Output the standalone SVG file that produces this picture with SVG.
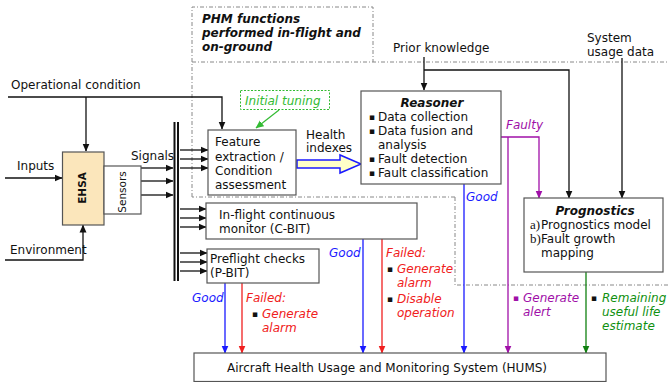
<svg xmlns="http://www.w3.org/2000/svg" width="668" height="382" viewBox="0 0 668 382">
<style>
text{font-family:"DejaVu Sans",Verdana,sans-serif;font-size:12px;fill:#111}
.bi{font-weight:bold;font-style:italic}
.it{font-style:italic}
.bu{font-size:9px;font-style:normal}
.box{fill:#fff;stroke:#555;stroke-width:1.2}
.ln{fill:none;stroke-width:1.3}
.k{stroke:#111}.b{stroke:#1a1aff}.r{stroke:#f02020}.p{stroke:#a010a8}.g{stroke:#108010}
.tb{fill:#1a1aff}.tr{fill:#f02020}.tp{fill:#a010a8}.tg{fill:#109010}
.phm{fill:none;stroke:#888;stroke-width:1;stroke-dasharray:4 2 1 2}
.ser{font-family:"Liberation Serif","Times New Roman",serif;font-size:13px}
</style>
<defs>
<marker id="ak" markerWidth="8" markerHeight="8" refX="7.5" refY="4" orient="auto" markerUnits="userSpaceOnUse"><path d="M0,0.5 L8,4 L0,7.5 z" fill="#111"/></marker>
<marker id="ab" markerWidth="8" markerHeight="8" refX="7.5" refY="4" orient="auto" markerUnits="userSpaceOnUse"><path d="M0,0.5 L8,4 L0,7.5 z" fill="#1a1aff"/></marker>
<marker id="ar" markerWidth="8" markerHeight="8" refX="7.5" refY="4" orient="auto" markerUnits="userSpaceOnUse"><path d="M0,0.5 L8,4 L0,7.5 z" fill="#f02020"/></marker>
<marker id="ap" markerWidth="8" markerHeight="8" refX="7.5" refY="4" orient="auto" markerUnits="userSpaceOnUse"><path d="M0,0.5 L8,4 L0,7.5 z" fill="#a010a8"/></marker>
<marker id="ag" markerWidth="8" markerHeight="8" refX="7.5" refY="4" orient="auto" markerUnits="userSpaceOnUse"><path d="M0,0.5 L8,4 L0,7.5 z" fill="#108010"/></marker>
<marker id="agl" markerWidth="8" markerHeight="8" refX="7.5" refY="4" orient="auto" markerUnits="userSpaceOnUse"><path d="M0,0.5 L8,4 L0,7.5 z" fill="#33bb33"/></marker>
</defs>
<rect width="668" height="382" fill="#fff"/>

<g id="phm-region">
<path class="phm" d="M192,197 V7 H373 V62 M192,62 H668 M455,197 H192 M455,197 V285 H668"/>
<text class="bi" x="202" y="23">PHM functions</text>
<text class="bi" x="202" y="37">performed in-flight and</text>
<text class="bi" x="202" y="51">on-ground</text>
</g>

<g id="connectors">
<path class="ln k" d="M8,97 H222 V129" marker-end="url(#ak)"/>
<path class="ln k" d="M86,97 V151" marker-end="url(#ak)"/>
<path class="ln k" d="M5,178 H62" marker-end="url(#ak)"/>
<path class="ln k" d="M5,260 H83 V225" marker-end="url(#ak)"/>
<path class="ln k" d="M141,168 H173" marker-end="url(#ak)"/>
<path class="ln k" d="M141,181 H173" marker-end="url(#ak)"/>
<path class="ln k" d="M141,195 H173" marker-end="url(#ak)"/>
<path fill="none" stroke="#111" stroke-width="2" d="M174.5,122 V281 M178,122 V281"/>
<path class="ln k" d="M180,150 H208" marker-end="url(#ak)"/>
<path class="ln k" d="M180,159 H208" marker-end="url(#ak)"/>
<path class="ln k" d="M180,168 H208" marker-end="url(#ak)"/>
<path class="ln k" d="M180,209 H206" marker-end="url(#ak)"/>
<path class="ln k" d="M180,218 H206" marker-end="url(#ak)"/>
<path class="ln k" d="M180,227 H206" marker-end="url(#ak)"/>
<path class="ln k" d="M180,253 H207" marker-end="url(#ak)"/>
<path class="ln k" d="M180,262 H207" marker-end="url(#ak)"/>
<path class="ln k" d="M180,271 H207" marker-end="url(#ak)"/>
<path fill="none" stroke="#33bb33" stroke-width="1.2" d="M279,110 L256,128" marker-end="url(#agl)"/>
<polygon points="297,160 340,160 340,155 361,164 340,173 340,168 297,168" fill="#ffffc8" stroke="#1a1aff" stroke-width="1.5"/>
<path class="ln k" d="M424,57 V90" marker-end="url(#ak)"/>
<path class="ln k" d="M424,70 H569 V198" marker-end="url(#ak)"/>
<path class="ln k" d="M622,58 V198" marker-end="url(#ak)"/>
<path class="ln p" d="M500,137 H539 V198" marker-end="url(#ap)"/>
<path class="ln p" d="M508,137 V353" marker-end="url(#ap)"/>
<path class="ln b" d="M464,184 V353" marker-end="url(#ab)"/>
<path class="ln g" d="M586,272 V353" marker-end="url(#ag)"/>
<path class="ln b" d="M363,239 V353" marker-end="url(#ab)"/>
<path class="ln r" d="M382,239 V353" marker-end="url(#ar)"/>
<path class="ln b" d="M225,283 V353" marker-end="url(#ab)"/>
<path class="ln r" d="M242,283 V353" marker-end="url(#ar)"/>
</g>

<g id="labels">
<text x="11" y="89">Operational condition</text>
<text x="17" y="170">Inputs</text>
<text x="10" y="254">Environment</text>
<text x="131" y="160">Signals</text>
<text x="306" y="139">Health</text>
<text x="306" y="152">indexes</text>
<text x="393" y="52">Prior knowledge</text>
<text x="587" y="42">System</text>
<text x="587" y="56">usage data</text>
<text class="it tp" x="506" y="129">Faulty</text>
<text class="it tb" x="466" y="201">Good</text>
<text class="it tb" x="329" y="257">Good</text>
<text class="it tr" x="386" y="257">Failed:</text>
<text x="387" y="272"><tspan class="bu">▪</tspan><tspan class="tr it" x="397" dy="1">Generate</tspan></text>
<text class="it tr" x="397" y="287">alarm</text>
<text x="387" y="302"><tspan class="bu">▪</tspan><tspan class="tr it" x="397" dy="1">Disable</tspan></text>
<text class="it tr" x="397" y="317">operation</text>
<text class="it tb" x="192" y="302">Good</text>
<text class="it tr" x="246" y="302">Failed:</text>
<text x="252" y="317"><tspan class="bu">▪</tspan><tspan class="tr it" x="262" dy="1">Generate</tspan></text>
<text class="it tr" x="262" y="332">alarm</text>
<text x="513" y="301"><tspan class="bu tp">▪</tspan><tspan class="tp it" x="523" dy="1">Generate</tspan></text>
<text class="it tp" x="523" y="316">alert</text>
<text x="591" y="301"><tspan class="bu">▪</tspan><tspan class="tg it" x="602" dy="1">Remaining</tspan></text>
<text class="it tg" x="602" y="316">useful life</text>
<text class="it tg" x="602" y="330">estimate</text>
</g>

<g id="ehsa">
<rect x="62.5" y="152" width="41.5" height="73" fill="#fbe6bb" stroke="#555" stroke-width="1.2"/>
<text transform="translate(86,188) rotate(-90)" text-anchor="middle" style="font-weight:bold;font-size:10.5px">EHSA</text>
</g>
<g id="sensors">
<rect x="104" y="166" width="37" height="48" class="box"/>
<text transform="translate(126,192) rotate(-90)" text-anchor="middle" style="font-size:10.5px">Sensors</text>
</g>

<g id="initial-tuning">
<rect x="240.5" y="90.5" width="89" height="19" fill="#fff" stroke="#33bb33" stroke-width="1" stroke-dasharray="2 1.5"/>
<text class="it" x="245" y="105" style="fill:#33bb33">Initial tuning</text>
</g>

<g id="feature">
<rect x="208" y="130" width="88" height="65" class="box"/>
<text x="215" y="146">Feature</text>
<text x="215" y="160.5">extraction /</text>
<text x="215" y="175">Condition</text>
<text x="215" y="189">assessment</text>
</g>

<g id="reasoner">
<rect x="361" y="91" width="140" height="93" class="box"/>
<text class="bi" x="432" y="107" text-anchor="middle">Reasoner</text>
<text x="369" y="120"><tspan class="bu">▪</tspan><tspan x="378" dy="1">Data collection</tspan></text>
<text x="369" y="134"><tspan class="bu">▪</tspan><tspan x="378" dy="1">Data fusion and</tspan></text>
<text x="378" y="149">analysis</text>
<text x="369" y="162"><tspan class="bu">▪</tspan><tspan x="378" dy="1">Fault detection</tspan></text>
<text x="369" y="176"><tspan class="bu">▪</tspan><tspan x="378" dy="1">Fault classification</tspan></text>
</g>

<g id="prognostics">
<rect x="524" y="198" width="139" height="74" class="box"/>
<text class="bi" x="595" y="215" text-anchor="middle">Prognostics</text>
<text x="530" y="229"><tspan class="ser">a)</tspan><tspan x="541">Prognostics model</tspan></text>
<text x="530" y="243"><tspan class="ser">b)</tspan><tspan x="541">Fault growth</tspan></text>
<text x="541" y="257">mapping</text>
</g>

<g id="cbit">
<rect x="206" y="203" width="211" height="36" class="box"/>
<text x="219" y="219">In-flight continuous</text>
<text x="219" y="233">monitor (C-BIT)</text>
</g>

<g id="pbit">
<rect x="207" y="249" width="112" height="34" class="box"/>
<text x="210" y="263">Preflight checks</text>
<text x="210" y="277">(P-BIT)</text>
</g>

<g id="hums">
<rect x="194" y="353" width="412" height="28.5" class="box"/>
<text x="387" y="372" text-anchor="middle">Aircraft Health Usage and Monitoring System (HUMS)</text>
</g>
</svg>
